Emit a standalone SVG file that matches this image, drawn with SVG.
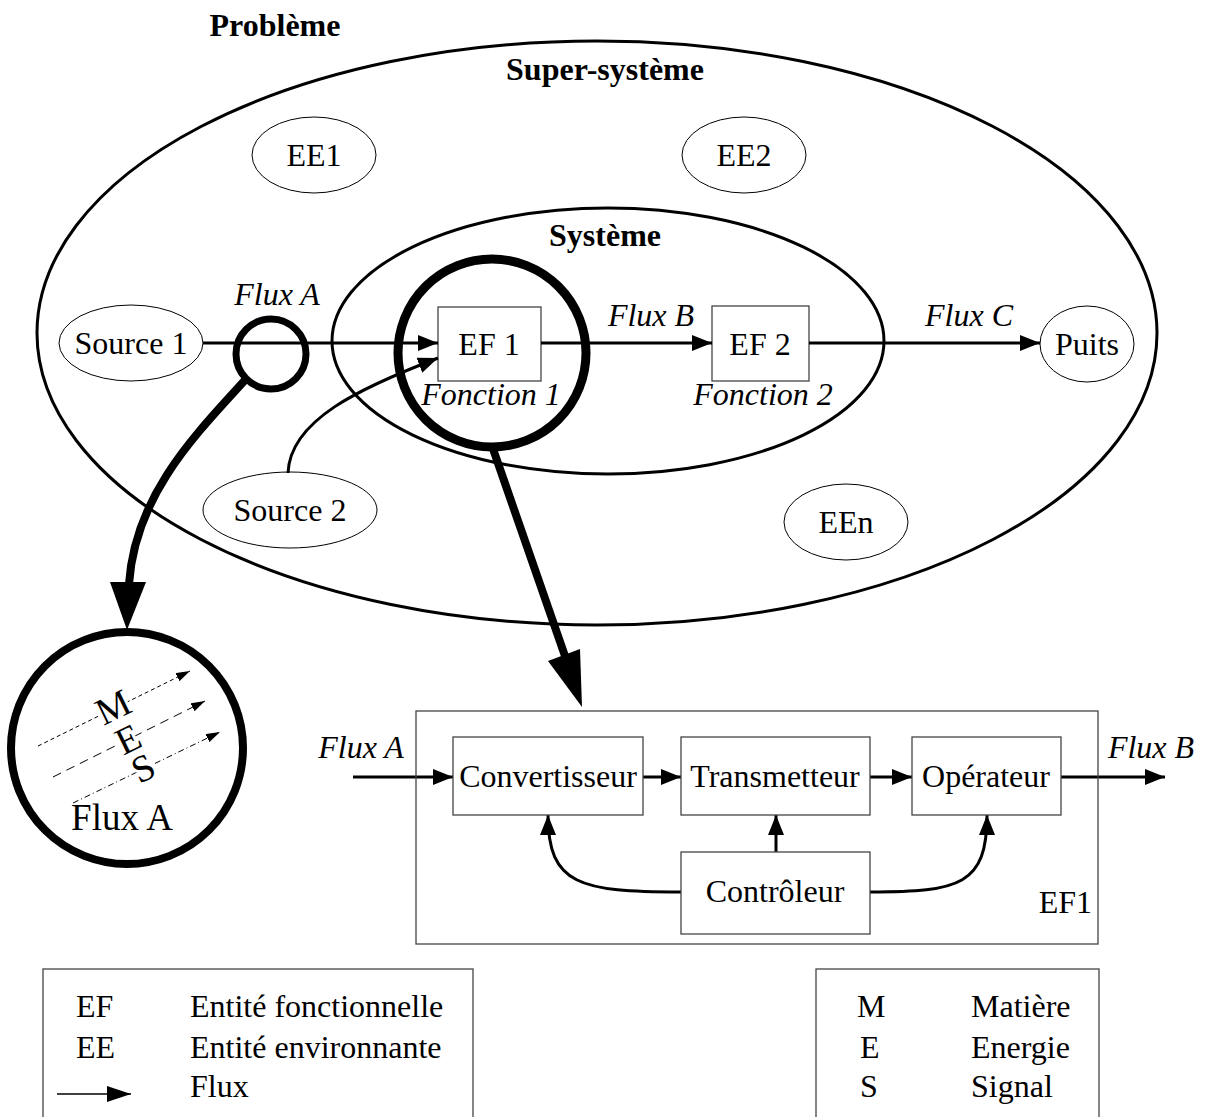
<svg xmlns="http://www.w3.org/2000/svg" width="1205" height="1117" viewBox="0 0 1205 1117">
<defs>
<style>
text{font-family:"Liberation Serif","Times New Roman",serif;font-size:32px;fill:#000}
.b{font-weight:bold}
.i{font-style:italic}
.m{text-anchor:middle}
.big{fill:none;stroke:#000;stroke-width:3}
.ee{fill:none;stroke:#000;stroke-width:1}
.box{fill:#fff;stroke:#444;stroke-width:1.3}
.c{fill:none;stroke:#000;stroke-width:3}
.mag{fill:none;stroke:#000}
.d{fill:none;stroke:#000;stroke-width:1}
.lt{stroke:#fff;stroke-width:6;paint-order:stroke;stroke-linejoin:round;font-size:38px}
</style>
<marker id="ah" markerUnits="userSpaceOnUse" markerWidth="20" markerHeight="16" refX="20" refY="8" orient="auto"><path d="M0,0 L20,8 L0,16 z" fill="#000"/></marker>
<marker id="ahs" markerUnits="userSpaceOnUse" markerWidth="14" markerHeight="9" refX="14" refY="4.5" orient="auto"><path d="M0,0 L14,4.5 L0,9 z" fill="#000"/></marker>
<marker id="ahl" markerUnits="userSpaceOnUse" markerWidth="24" markerHeight="16" refX="24" refY="8" orient="auto"><path d="M0,0 L24,8 L0,16 z" fill="#000"/></marker>
</defs>
<rect width="1205" height="1117" fill="#fff"/>

<g id="probleme"><text class="b m" x="275" y="36">Problème</text></g>

<g id="super-systeme">
<ellipse class="big" cx="597" cy="333" rx="560" ry="292"/>
<text class="b m" x="605" y="80">Super-système</text>
</g>

<g id="systeme">
<ellipse class="big" cx="608" cy="341" rx="276" ry="133"/>
<text class="b m" x="605" y="246">Système</text>
</g>

<g id="ee1"><ellipse class="ee" cx="314" cy="155" rx="62" ry="38"/><text class="m" x="314" y="166">EE1</text></g>
<g id="ee2"><ellipse class="ee" cx="744" cy="155" rx="62" ry="38"/><text class="m" x="744" y="166">EE2</text></g>
<g id="een"><ellipse class="ee" cx="846" cy="522" rx="62" ry="38"/><text class="m" x="846" y="533">EEn</text></g>
<g id="source1"><ellipse class="ee" cx="131" cy="343" rx="72" ry="38"/><text class="m" x="131" y="354">Source 1</text></g>
<g id="source2"><ellipse class="ee" cx="290" cy="510" rx="87" ry="38"/><text class="m" x="290" y="521">Source 2</text></g>
<g id="puits"><ellipse class="ee" cx="1087" cy="344" rx="47" ry="38"/><text class="m" x="1087" y="355">Puits</text></g>

<g id="ef1"><rect class="box" x="438" y="307" width="103" height="74"/><text class="m" x="489" y="355">EF 1</text><text class="i m" x="491" y="405">Fonction 1</text></g>
<g id="ef2"><rect class="box" x="712" y="306" width="97" height="75"/><text class="m" x="760" y="355">EF 2</text><text class="i m" x="763" y="405">Fonction 2</text></g>

<g id="connectors">
<path class="c" d="M203 343 L438 343" marker-end="url(#ah)"/>
<path class="c" d="M541 343 L712 343" marker-end="url(#ah)"/>
<path class="c" d="M809 343 L1040 343" marker-end="url(#ah)"/>
<path class="c" d="M288 473 C290 420 360 388 438 358" marker-end="url(#ah)"/>
<text class="i m" x="277" y="305">Flux A</text>
<text class="i m" x="651" y="326">Flux B</text>
<text class="i m" x="969" y="326">Flux C</text>

<path class="c" d="M353 777 L453 777" marker-end="url(#ah)"/>
<path class="c" d="M643 777 L681 777" marker-end="url(#ah)"/>
<path class="c" d="M870 777 L912 777" marker-end="url(#ah)"/>
<path class="c" d="M1061 777 L1165 777" marker-end="url(#ah)"/>
<path class="c" d="M776 852 L776 815" marker-end="url(#ah)"/>
<path class="c" d="M681 892 C580 892 548 885 548 815" marker-end="url(#ah)"/>
<path class="c" d="M870 892 C960 892 987 885 987 815" marker-end="url(#ah)"/>
<text class="i m" x="361" y="758">Flux A</text>
<text class="i m" x="1151" y="758">Flux B</text>

<path class="mag" stroke-width="8" d="M246 379 C195 435 135 495 129 584"/>
<polygon points="127,630 110,582 146,582" fill="#000"/>
<path class="mag" stroke-width="8" d="M492 446 L565 656"/>
<polygon points="582,707 580,649 548,661" fill="#000"/>
</g>

<g id="loupe-flux-a"><circle class="mag" stroke-width="7" cx="271" cy="354" r="35"/></g>
<g id="loupe-ef1"><circle class="mag" stroke-width="9" cx="492" cy="353" r="94"/></g>

<g id="zoom-flux-a">
<circle class="mag" stroke-width="8" cx="127" cy="748" r="116"/>
<path class="d" stroke-dasharray="4,3" d="M38 746 L190 671" marker-end="url(#ahs)"/>
<path class="d" stroke-dasharray="9,6" d="M53 777 L205 701" marker-end="url(#ahs)"/>
<path class="d" stroke-dasharray="6,3,1,3" d="M73 803 L220 732" marker-end="url(#ahs)"/>
<text class="m lt" transform="translate(113,707) rotate(-26)" y="13">M</text>
<text class="m lt" transform="translate(128,739) rotate(-26)" y="13">E</text>
<text class="m lt" transform="translate(143,768) rotate(-26)" y="13">S</text>
<text class="m" style="font-size:37px" x="122" y="830">Flux A</text>
</g>

<g id="ef1-detail">
<rect x="416" y="711" width="682" height="233" fill="none" stroke="#444" stroke-width="1.3"/>
<text x="1092" y="913" text-anchor="end">EF1</text>
</g>
<g id="convertisseur"><rect class="box" x="453" y="737" width="190" height="78"/><text class="m" x="548" y="787">Convertisseur</text></g>
<g id="transmetteur"><rect class="box" x="681" y="737" width="189" height="78"/><text class="m" x="775" y="787">Transmetteur</text></g>
<g id="operateur"><rect class="box" x="912" y="737" width="149" height="78"/><text class="m" x="986" y="787">Opérateur</text></g>
<g id="controleur"><rect class="box" x="681" y="852" width="189" height="82"/><text class="m" x="775" y="902">Contrôleur</text></g>

<g id="legende1">
<rect x="43" y="969" width="430" height="160" fill="none" stroke="#444" stroke-width="1.3"/>
<text x="76" y="1017">EF</text><text x="190" y="1017">Entité fonctionnelle</text>
<text x="76" y="1058">EE</text><text x="190" y="1058">Entité environnante</text>
<path d="M57 1094 L131 1094" stroke="#000" stroke-width="1.5" marker-end="url(#ahl)"/>
<text x="190" y="1097">Flux</text>
</g>
<g id="legende2">
<rect x="816" y="969" width="283" height="160" fill="none" stroke="#444" stroke-width="1.3"/>
<text x="857" y="1017">M</text><text x="971" y="1017">Matière</text>
<text x="860" y="1058">E</text><text x="971" y="1058">Energie</text>
<text x="860" y="1097">S</text><text x="971" y="1097">Signal</text>
</g>
</svg>
